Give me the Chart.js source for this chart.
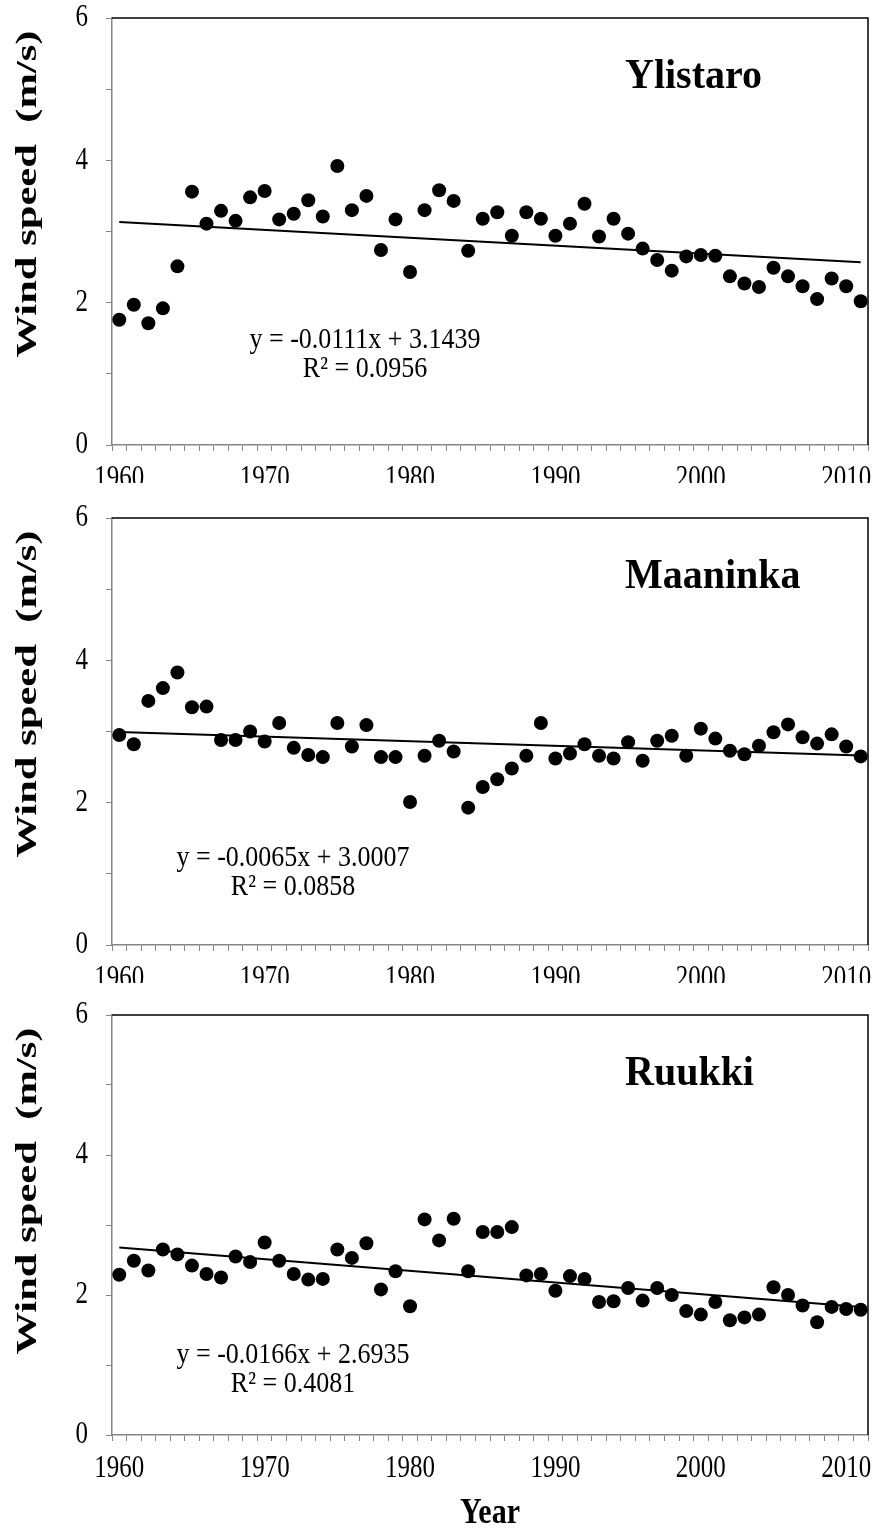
<!DOCTYPE html>
<html>
<head>
<meta charset="utf-8">
<script src="https://cdn.jsdelivr.net/npm/chart.js@4.4.1/dist/chart.umd.min.js"></script>
<style>
  body { margin: 0; background: #fff; }
  #wrap { position: relative; width: 878px; height: 1530px; overflow: hidden; background: #fff; }
  #wrap canvas { position: absolute; left: 0; }
  #yearLabel { position: absolute; left: 0; width: 980px; top: 1494px; text-align: center;
    font: bold 30px "Liberation Serif", "Times New Roman", serif; color: #000;
    transform: scaleY(1.2); transform-origin: 50% 50%; }
</style>
</head>
<body>
<div id="wrap">
  <canvas id="c1" width="878" height="483" style="top:0px"></canvas>
  <canvas id="c2" width="878" height="483" style="top:500px"></canvas>
  <canvas id="c3" width="878" height="533" style="top:997px"></canvas>
  <div id="yearLabel">Year</div>
</div>
<script>
// years on the x axis
const years = [
  1960, 1961, 1962, 1963, 1964, 1965, 1966, 1967, 1968, 1969,
  1970, 1971, 1972, 1973, 1974, 1975, 1976, 1977, 1978, 1979,
  1980, 1981, 1982, 1983, 1984, 1985, 1986, 1987, 1988, 1989,
  1990, 1991, 1992, 1993, 1994, 1995, 1996, 1997, 1998, 1999,
  2000, 2001, 2002, 2003, 2004, 2005, 2006, 2007, 2008, 2009,
  2010, 2011
];
const yearLabels = [1960, 1970, 1980, 1990, 2000, 2010];
const yTickLabels = [0, 2, 4, 6];

// annual mean wind speed (m/s)
const ylistaro = [
  1.76, 1.97, 1.71, 1.92, 2.51, 3.56, 3.11, 3.29, 3.15, 3.48,
  3.57, 3.17, 3.25, 3.44, 3.21, 3.92, 3.30, 3.50, 2.74, 3.17,
  2.43, 3.30, 3.58, 3.43, 2.73, 3.18, 3.27, 2.94, 3.27, 3.18,
  2.94, 3.11, 3.39, 2.93, 3.18, 2.97, 2.76, 2.60, 2.45, 2.65,
  2.67, 2.66, 2.37, 2.27, 2.22, 2.49, 2.37, 2.23, 2.05, 2.34,
  2.23, 2.02
];
const maaninka = [
  2.95, 2.82, 3.43, 3.61, 3.83, 3.34, 3.35, 2.88, 2.88, 3.00,
  2.86, 3.12, 2.77, 2.67, 2.64, 3.12, 2.79, 3.09, 2.64, 2.64,
  2.01, 2.66, 2.87, 2.72, 1.93, 2.22, 2.33, 2.48, 2.66, 3.12,
  2.62, 2.69, 2.82, 2.66, 2.62, 2.85, 2.59, 2.87, 2.94, 2.66,
  3.04, 2.90, 2.73, 2.68, 2.80, 2.99, 3.10, 2.92, 2.83, 2.96,
  2.79, 2.65
];
const ruukki = [
  2.29, 2.49, 2.35, 2.65, 2.58, 2.42, 2.30, 2.25, 2.55, 2.47,
  2.75, 2.49, 2.30, 2.22, 2.23, 2.65, 2.53, 2.74, 2.08, 2.34,
  1.84, 3.08, 2.78, 3.09, 2.34, 2.90, 2.90, 2.97, 2.28, 2.30,
  2.06, 2.27, 2.23, 1.90, 1.91, 2.10, 1.92, 2.10, 2.00, 1.77,
  1.72, 1.90, 1.64, 1.68, 1.72, 2.11, 2.00, 1.85, 1.61, 1.83,
  1.80, 1.79
];

const stations = ['Ylistaro', 'Maaninka', 'Ruukki'];
const slopes = [-0.0111, -0.0065, -0.0166];
const intercepts = [3.1439, 3.0007, 2.6935];
const eqTexts = ['y = -0.0111x + 3.1439', 'y = -0.0065x + 3.0007', 'y = -0.0166x + 2.6935'];
const r2Texts = ['R² = 0.0956', 'R² = 0.0858', 'R² = 0.4081'];

const FONT = '"Liberation Serif", "Times New Roman", serif';
const AXIS_GRAY = '#868686';

// text drawn with a vertical stretch, like the original figure
function drawText(ctx, txt, x, y, font, opts) {
  opts = opts || {};
  ctx.save();
  ctx.font = font;
  ctx.fillStyle = '#000';
  ctx.textAlign = opts.align || 'center';
  ctx.textBaseline = opts.baseline || 'middle';
  ctx.translate(x, y);
  if (opts.rotate) {
    ctx.rotate(-Math.PI / 2);
    ctx.scale(opts.stretch || 1, 1);
  } else {
    ctx.scale(1, opts.stretch || 1);
  }
  ctx.fillText(txt, 0, 0);
  ctx.restore();
}

function makeChart(id, idx, values) {
  const labels = years.map(String);
  const n = years.length;
  const trend = [
    { x: labels[0], y: slopes[idx] * 1 + intercepts[idx] },
    { x: labels[n - 1], y: slopes[idx] * n + intercepts[idx] }
  ];
  const eqPos = idx === 0 ? { x: 365, y: 340 } : { x: 293, y: 358 };

  const decorPlugin = {
    id: 'decor' + idx,
    afterDraw(chart) {
      const ctx = chart.ctx;
      const a = chart.chartArea;
      const xs = chart.scales.x, ys = chart.scales.y;
      // top and right frame
      ctx.save();
      ctx.strokeStyle = '#000';
      ctx.lineWidth = 1.5;
      ctx.beginPath();
      ctx.moveTo(a.left, a.top);
      ctx.lineTo(a.right, a.top);
      ctx.lineTo(a.right, a.bottom);
      ctx.stroke();
      ctx.restore();

      // y tick labels
      yTickLabels.forEach(v => {
        drawText(ctx, String(v), a.left - 24, ys.getPixelForValue(v), '25px ' + FONT,
          { align: 'right', stretch: 1.25 });
      });
      // x tick labels
      yearLabels.forEach(yr => {
        const px = xs.getPixelForValue(years.indexOf(yr));
        drawText(ctx, String(yr), px, a.bottom + 33, '25px ' + FONT, { stretch: 1.3 });
      });
      // y axis title
      drawText(ctx, 'Wind speed  (m/s)', 28, 194, 'bold 30px ' + FONT, { rotate: true, stretch: 1.42 });
      // station name
      drawText(ctx, stations[idx], 625, 88, 'bold 40px ' + FONT, { align: 'left', baseline: 'alphabetic', stretch: 1.05 });
      // trend equation
      drawText(ctx, eqTexts[idx], eqPos.x, eqPos.y, '26px ' + FONT, { stretch: 1.15 });
      drawText(ctx, r2Texts[idx], eqPos.x, eqPos.y + 29, '26px ' + FONT, { stretch: 1.15 });
    }
  };

  const canvas = document.getElementById(id);
  const bottomSpace = canvas.height - (idx === 2 ? 438 : 445);

  return new Chart(canvas, {
    type: 'line',
    data: {
      labels: labels,
      datasets: [
        {
          label: stations[idx],
          data: values,
          showLine: false,
          pointRadius: 7,
          pointHoverRadius: 7,
          pointBackgroundColor: '#000',
          pointBorderColor: '#000',
          pointBorderWidth: 0,
          order: 0
        },
        {
          label: 'Linear trend',
          data: trend,
          borderColor: '#000',
          borderWidth: 2,
          pointRadius: 0,
          fill: false,
          order: 1
        }
      ]
    },
    options: {
      responsive: false,
      animation: false,
      events: [],
      layout: { padding: { left: 0, top: 18, right: 10, bottom: 0 } },
      plugins: {
        legend: { display: false },
        tooltip: { enabled: false },
        title: { display: false }
      },
      scales: {
        x: {
          type: 'category',
          offset: true,
          grid: { offset: true, drawOnChartArea: false, drawTicks: true, tickLength: 6, color: AXIS_GRAY },
          border: { color: AXIS_GRAY, width: 1.5 },
          ticks: { display: false, autoSkip: false },
          afterFit(scale) { scale.height = bottomSpace; }
        },
        y: {
          min: 0,
          max: 6,
          grid: { drawOnChartArea: false, drawTicks: true, tickLength: 6, color: AXIS_GRAY },
          border: { color: AXIS_GRAY, width: 1.5 },
          ticks: { display: false, stepSize: 1 },
          afterFit(scale) { scale.width = 112; }
        }
      }
    },
    plugins: [decorPlugin]
  });
}

makeChart('c1', 0, ylistaro);
makeChart('c2', 1, maaninka);
makeChart('c3', 2, ruukki);
</script>
</body>
</html>
